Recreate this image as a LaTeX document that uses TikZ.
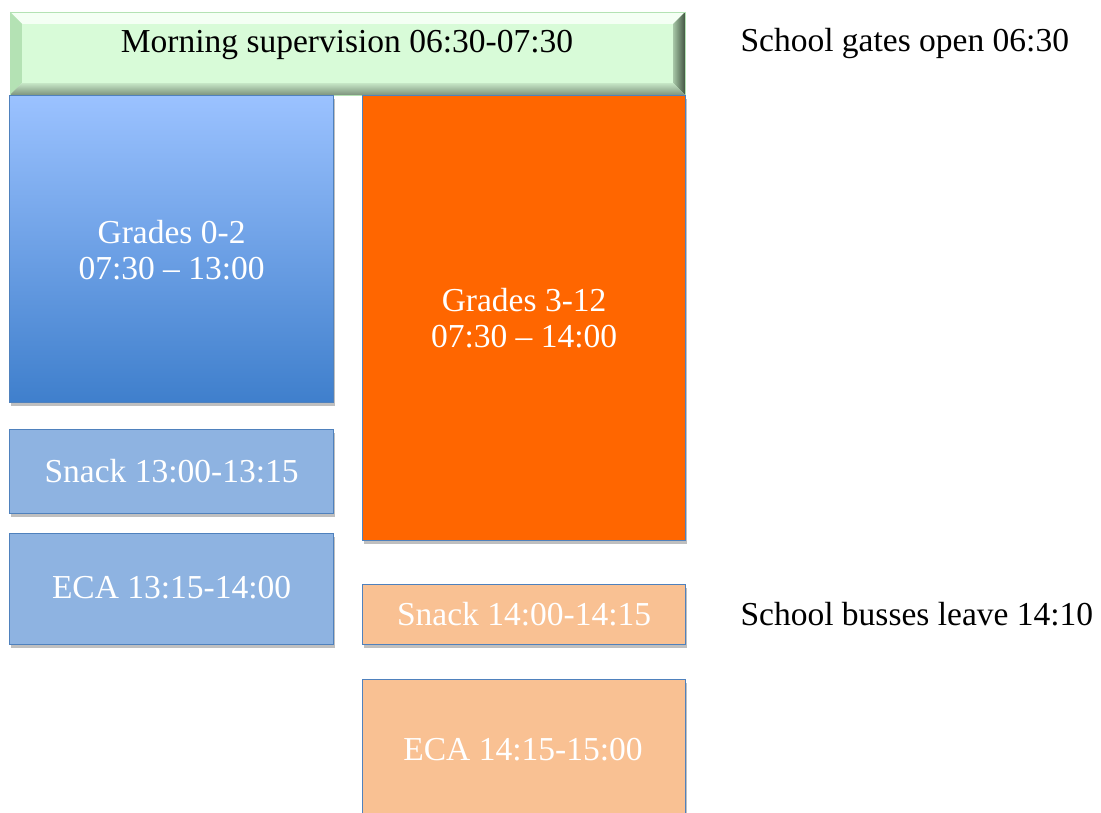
\documentclass[tikz,border=0pt]{standalone}
\usepackage{fontspec}
\setmainfont{Liberation Serif}
\usetikzlibrary{shadows,calc}
\definecolor{boxborder}{HTML}{4F81BD}
\definecolor{bluetop}{HTML}{9BC2FF}
\definecolor{bluebot}{HTML}{3F7FCC}
\definecolor{bluelight}{HTML}{8EB3E1}
\definecolor{orangedark}{HTML}{FF6600}
\definecolor{orangelight}{HTML}{F9C193}
\definecolor{greenbar}{HTML}{D8FBD8}
\definecolor{bevelleft}{HTML}{B4E2B4}
\definecolor{beveltop}{HTML}{F4FFF4}
\definecolor{bevelright}{HTML}{5E7A5E}
\definecolor{bevelbot}{HTML}{9CB89C}
\tikzset{
  blockbox/.style={draw=boxborder, line width=1.2pt, minimum width=#1, inner sep=0pt,
    drop shadow={shadow xshift=1pt, shadow yshift=-3pt, opacity=0.25, fill=black}},
  wtext/.style={text=white, font=\fontsize{33.5}{36}\selectfont, align=center},
  btext/.style={text=black, font=\fontsize{33.5}{36}\selectfont, align=center}
}
\begin{document}
\begin{tikzpicture}[x=1pt,y=-1pt]
\useasboundingbox (0,0) rectangle (1101,813);
% top bevelled bar
\coordinate (g1) at (10,12);
\coordinate (g2) at (685,95);
\fill[greenbar] (g1) rectangle (g2);
\fill[beveltop] (10,12) -- (685,12) -- (673,24) -- (22,24) -- cycle;
\fill[bevelleft] (10,12) -- (22,24) -- (22,83) -- (10,95) -- cycle;
\shade[left color=greenbar!60!bevelright, right color=bevelright!70!black] (685,12) -- (685,95) -- (673,83) -- (673,24) -- cycle;
\shade[top color=greenbar!70!bevelbot, bottom color=bevelbot!80!black] (10,95) -- (22,83) -- (673,83) -- (685,95) -- cycle;
\fill[greenbar] (22,24) rectangle (673,83);
\draw[bevelleft, line width=0.8pt] (g1) rectangle (g2);
\node[btext, anchor=center] (morning) at (347,45) {Morning supervision 06:30-07:30};
% blue column
\node[blockbox=324pt, minimum height=307pt, top color=bluetop, bottom color=bluebot, anchor=north west] (g02) at (9,95) {};
\node[wtext] (g02t) at (g02.center) [yshift=-1pt] {Grades 0-2\\07:30 -- 13:00};
\node[blockbox=324pt, minimum height=84pt, fill=bluelight, anchor=north west] (snackA) at (9,429) {};
\node[wtext] at (snackA.center) {Snack 13:00-13:15};
\node[blockbox=324pt, minimum height=111pt, fill=bluelight, anchor=north west] (ecaA) at (9,533) {};
\node[wtext] at ($(ecaA.center)+(0,-2)$) {ECA 13:15-14:00};
% orange column
\node[blockbox=323pt, minimum height=445pt, fill=orangedark, anchor=north west] (g312) at (362,95) {};
\node[wtext] at (g312.center) {Grades 3-12\\07:30 -- 14:00};
\node[blockbox=323pt, minimum height=60pt, fill=orangelight, anchor=north west] (snackB) at (362,584) {};
\node[wtext] at (snackB.center) {Snack 14:00-14:15};
\node[blockbox=323pt, minimum height=160pt, fill=orangelight, anchor=north west] (ecaB) at (362,679) {};
\node[wtext] at (523,750) {ECA 14:15-15:00};
% side notes
\node[btext, anchor=west] (gates) at (737,43) {School gates open 06:30};
\node[btext, anchor=west] (busses) at (737,614) {School busses leave 14:10};
\end{tikzpicture}
\end{document}
